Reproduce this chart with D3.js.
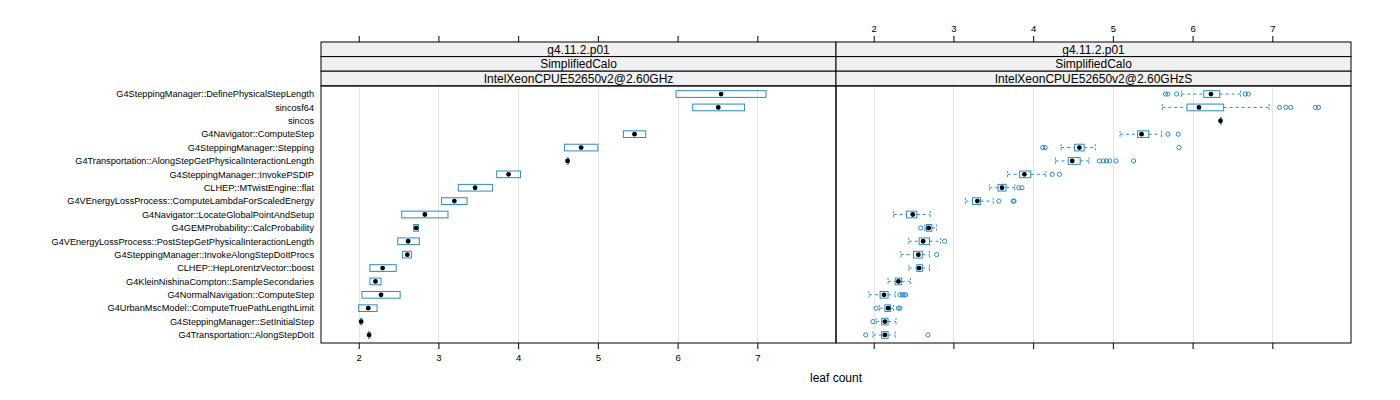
<!DOCTYPE html>
<html><head><meta charset="utf-8">
<script src="https://cdn.jsdelivr.net/npm/d3@7"></script>
<style>body{margin:0;background:#fff}svg{display:block}text{font-family:"Liberation Sans",Arial,Helvetica,sans-serif;fill:#000}</style>
</head><body><svg id="c" width="1400" height="400"></svg>
<script>
const categories = [
 "G4SteppingManager::DefinePhysicalStepLength","sincosf64","sincos","G4Navigator::ComputeStep",
 "G4SteppingManager::Stepping","G4Transportation::AlongStepGetPhysicalInteractionLength",
 "G4SteppingManager::InvokePSDIP","CLHEP::MTwistEngine::flat","G4VEnergyLossProcess::ComputeLambdaForScaledEnergy",
 "G4Navigator::LocateGlobalPointAndSetup","G4GEMProbability::CalcProbability",
 "G4VEnergyLossProcess::PostStepGetPhysicalInteractionLength","G4SteppingManager::InvokeAlongStepDoItProcs",
 "CLHEP::HepLorentzVector::boost","G4KleinNishinaCompton::SampleSecondaries","G4NormalNavigation::ComputeStep",
 "G4UrbanMscModel::ComputeTruePathLengthLimit","G4SteppingManager::SetInitialStep","G4Transportation::AlongStepDoIt"];
const stripVersion = ["g4.11.2.p01","g4.11.2.p01"];
const stripApp = ["SimplifiedCalo","SimplifiedCalo"];
const stripHost = ["IntelXeonCPUE52650v2@2.60GHz","IntelXeonCPUE52650v2@2.60GHzS"];
const xTicks = [2,3,4,5,6,7];
const xLabel = "leaf count";

// Panel 1 (no whiskers beyond the box)
const p1BoxLo  = [5.98,6.19,null,5.32,4.58,4.615,3.73,3.25,3.04,2.54,2.69,2.49,2.55,2.14,2.14,2.04,2.00,2.025,2.125];
const p1Median = [6.545,6.51,null,5.46,4.79,4.62,3.88,3.46,3.20,2.83,2.72,2.62,2.61,2.30,2.21,2.28,2.12,2.03,2.13];
const p1BoxHi  = [7.11,6.84,null,5.60,5.00,4.63,4.03,3.68,3.36,3.12,2.75,2.76,2.66,2.47,2.28,2.52,2.23,2.04,2.14];

// Panel 2
const p2WhiskLo = [5.86,5.62,6.35,5.09,4.35,4.28,3.68,3.45,3.15,2.25,2.64,2.44,2.34,2.44,2.18,1.94,2.07,2.03,1.99];
const p2BoxLo   = [6.14,5.93,6.35,5.31,4.52,4.44,3.83,3.56,3.24,2.41,2.66,2.57,2.50,2.54,2.27,2.08,2.14,2.10,2.10];
const p2Median  = [6.23,6.08,6.35,5.36,4.58,4.49,3.89,3.61,3.30,2.49,2.69,2.62,2.56,2.57,2.31,2.13,2.18,2.14,2.14];
const p2BoxHi   = [6.34,6.39,6.35,5.45,4.64,4.59,3.97,3.66,3.34,2.54,2.73,2.70,2.61,2.61,2.35,2.18,2.21,2.18,2.18];
const p2WhiskHi = [6.60,6.96,6.35,5.61,4.78,4.70,4.16,3.77,3.50,2.71,2.79,2.84,2.70,2.70,2.46,2.27,2.25,2.28,2.27];
const p2Outliers = [
 [5.66,5.69,5.80,6.66,6.70],[7.09,7.17,7.23,7.54,7.58],[],[5.69,5.82],[4.12,4.15,5.83],
 [4.83,4.88,4.92,4.96,5.04,5.26],[4.24,4.33],[3.82,3.86],[3.57,3.75,3.76],[],[2.59],[2.89],[2.79],[],[],
 [2.33,2.36,2.38,2.40],[2.03,2.31,2.33],[1.99],[1.90,2.68]];

const BLUE = "#2b8ac6";
const svg = d3.select("#c");
const panelTop = 86, panelBottom = 343, stripTop = 42, stripH = 14.6;
const panels = [{x0:321,x1:836},{x0:836,x1:1351}];
const y = d3.scalePoint().domain(categories).range([panelTop, panelBottom]).padding(0.6);
const bh = y.step()*0.25;

function mkPanel(pi){
  const P = panels[pi];
  const x = d3.scaleLinear().domain([1.527,7.987]).range([P.x0,P.x1]);
  const g = svg.append("g");
  g.selectAll("line.grid").data(xTicks).join("line")
    .attr("x1",d=>Math.round(x(d))+0.5).attr("x2",d=>Math.round(x(d))+0.5)
    .attr("y1",panelTop).attr("y2",panelBottom).attr("stroke","#e6e6e6").attr("stroke-width",1);
  [stripVersion[pi],stripApp[pi],stripHost[pi]].forEach((t,k)=>{
    const yy = stripTop + k*stripH;
    g.append("rect").attr("x",P.x0).attr("y",yy).attr("width",P.x1-P.x0).attr("height",stripH)
      .attr("fill","#f0f0f0").attr("stroke","#000").attr("stroke-width",1);
    g.append("text").attr("x",(P.x0+P.x1)/2).attr("y",yy+stripH/2+4.2).attr("text-anchor","middle")
      .style("font-size","12px").text(t);
  });
  g.append("rect").attr("x",P.x0).attr("y",panelTop).attr("width",P.x1-P.x0).attr("height",panelBottom-panelTop)
    .attr("fill","none").attr("stroke","#000").attr("stroke-width",1);
  const top = d3.axisTop(x).tickValues(xTicks).tickSize(6).tickPadding(4).tickFormat(pi===1?d3.format("d"):()=>"");
  const bot = d3.axisBottom(x).tickValues(xTicks).tickSize(6).tickPadding(5).tickFormat(pi===0?d3.format("d"):()=>"");
  const ta = g.append("g").attr("transform",`translate(0,${stripTop})`).call(top);
  const ba = g.append("g").attr("transform",`translate(0,${panelBottom})`).call(bot);
  [ta,ba].forEach(a=>{a.select(".domain").remove();a.selectAll("text").style("font-size","9.6px").style("font-family","Liberation Sans, Arial, sans-serif");a.selectAll("line").attr("stroke","#000");});
  return {g,x};
}

const A = mkPanel(0), B = mkPanel(1);

categories.forEach((c,i)=>{
  if(p1Median[i]==null) return;
  const x=A.x, yy=y(c);
  A.g.append("rect").attr("x",x(p1BoxLo[i])).attr("y",yy-bh).attr("width",Math.max(0.8,x(p1BoxHi[i])-x(p1BoxLo[i])))
    .attr("height",2*bh).attr("fill","none").attr("stroke",BLUE).attr("stroke-width",1);
  A.g.append("circle").attr("cx",x(p1Median[i])).attr("cy",yy).attr("r",2.4).attr("fill","#000");
});
categories.forEach((c,i)=>{
  const x=B.x, yy=y(c), g=B.g;
  [[p2WhiskLo[i],p2BoxLo[i]],[p2BoxHi[i],p2WhiskHi[i]]].forEach(([a,b])=>{
    if(b-a<=0.001) return;
    g.append("line").attr("x1",x(a)).attr("x2",x(b)).attr("y1",yy).attr("y2",yy)
      .attr("stroke",BLUE).attr("stroke-dasharray","3,3");
  });
  [p2WhiskLo[i],p2WhiskHi[i]].forEach(v=>{
    g.append("line").attr("x1",x(v)).attr("x2",x(v)).attr("y1",yy-bh).attr("y2",yy+bh)
      .attr("stroke",BLUE).attr("stroke-dasharray","2,2");
  });
  g.append("rect").attr("x",x(p2BoxLo[i])).attr("y",yy-bh).attr("width",Math.max(0.8,x(p2BoxHi[i])-x(p2BoxLo[i])))
    .attr("height",2*bh).attr("fill","none").attr("stroke",BLUE).attr("stroke-width",1);
  g.append("circle").attr("cx",x(p2Median[i])).attr("cy",yy).attr("r",2.4).attr("fill","#000");
  g.selectAll(null).data(p2Outliers[i]).join("circle").attr("cx",d=>x(d)).attr("cy",yy).attr("r",2.1)
    .attr("fill","none").attr("stroke",BLUE).attr("stroke-width",1);
});

svg.append("g").selectAll("text").data(categories).join("text")
  .attr("x",314).attr("y",d=>y(d)+3.3).attr("text-anchor","end").style("font-size","9.2px").text(d=>d);
svg.append("text").attr("x",836).attr("y",382).attr("text-anchor","middle").style("font-size","12px").text(xLabel);
</script></body></html>
